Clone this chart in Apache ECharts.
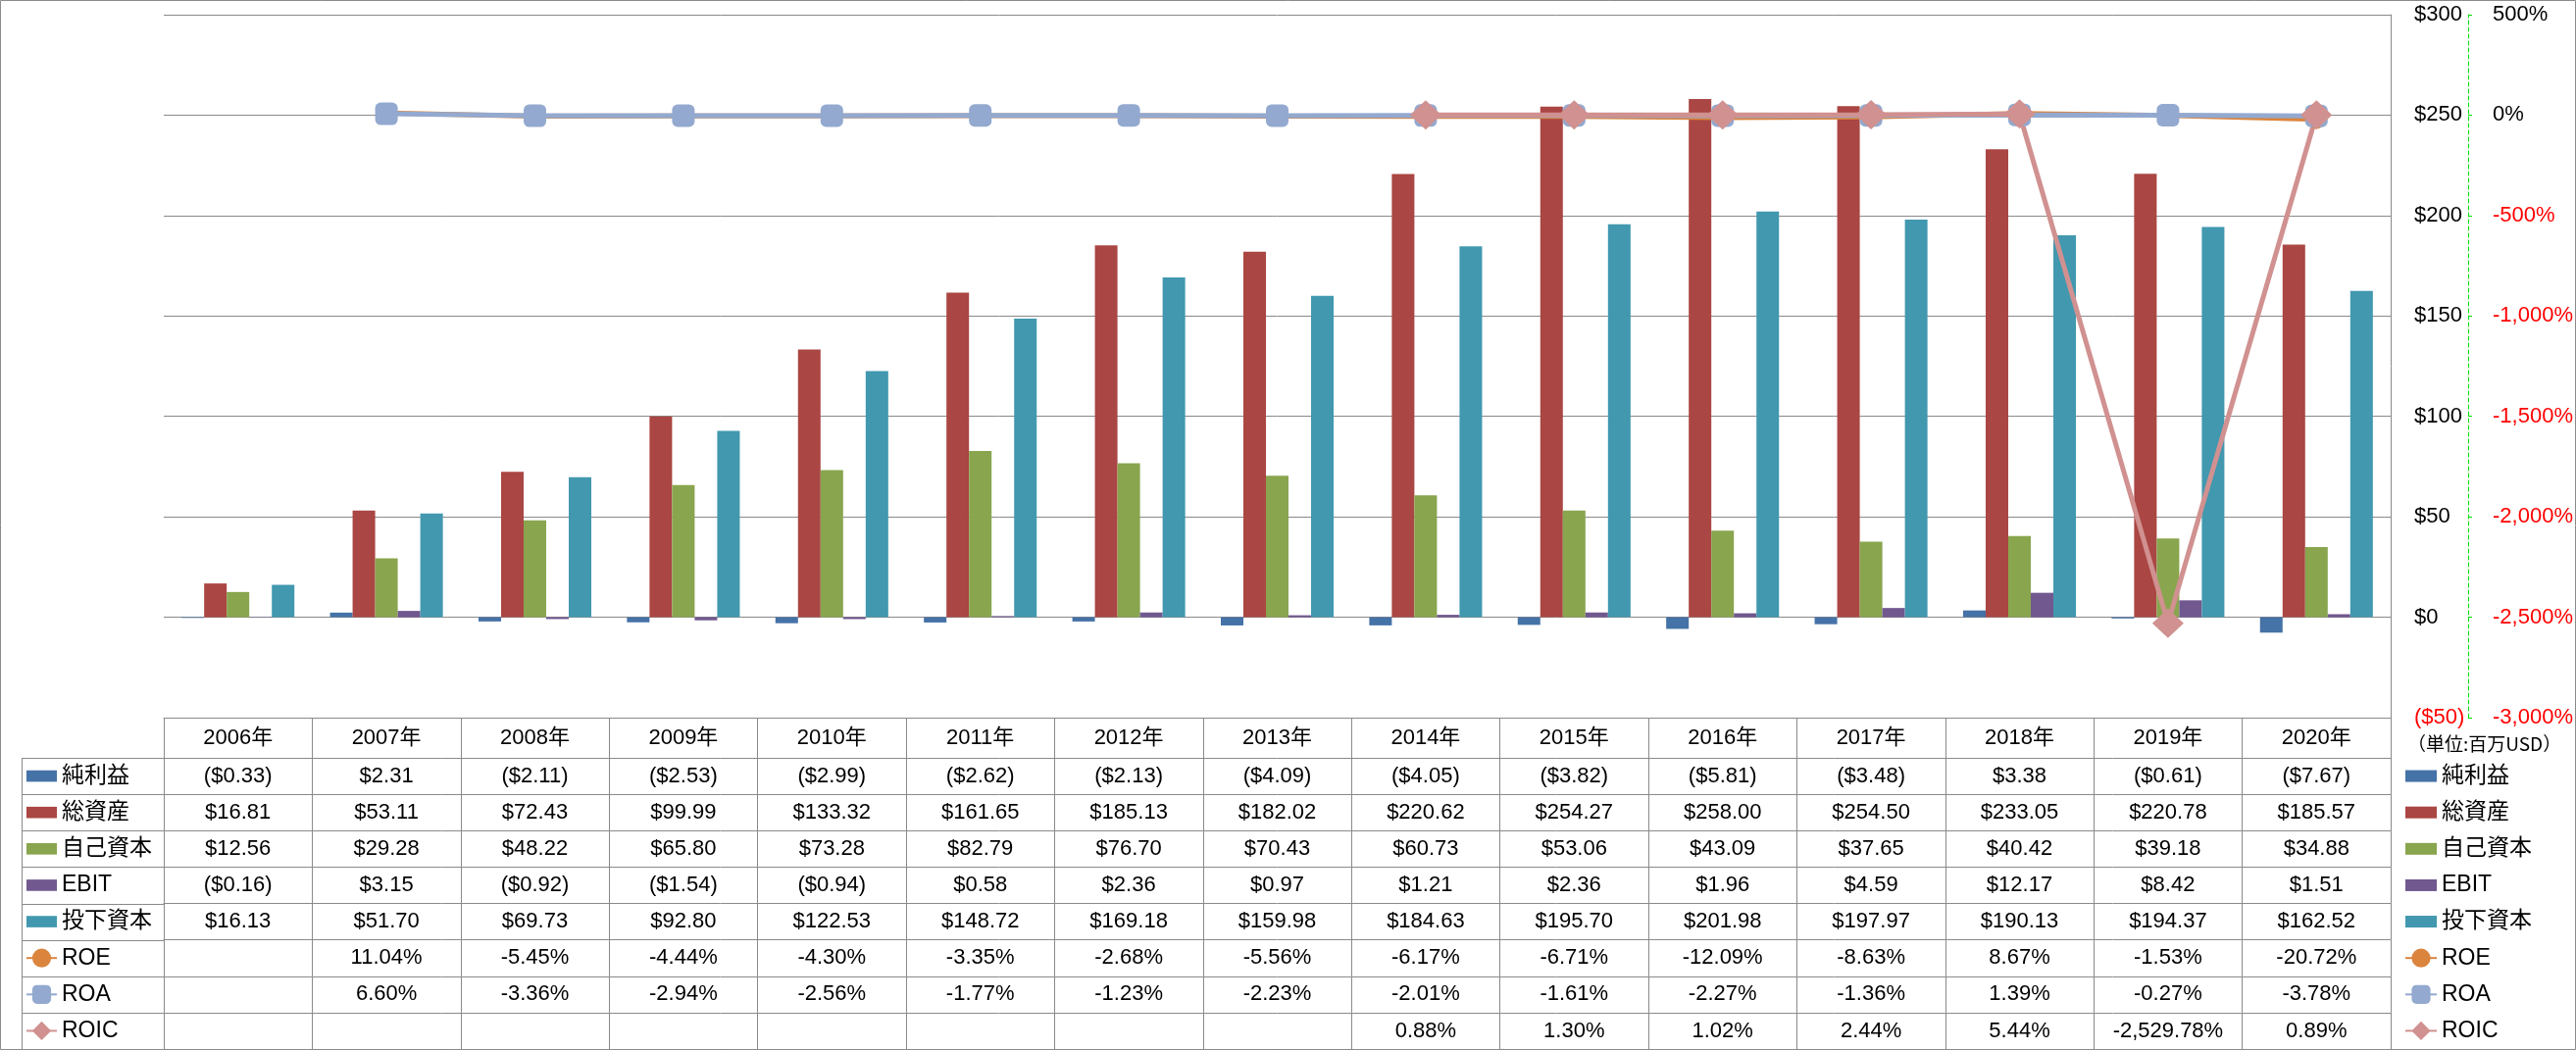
<!DOCTYPE html>
<html><head><meta charset="utf-8">
<script src="https://cdn.jsdelivr.net/npm/echarts@6/dist/echarts.min.js"></script>
<style>html,body{margin:0;padding:0;background:#fff}#c{width:2627px;height:1071px}</style>
</head><body><div id="c"></div>
<script>
// ---- data ----
const years = ['2006年','2007年','2008年','2009年','2010年','2011年','2012年','2013年','2014年','2015年','2016年','2017年','2018年','2019年','2020年'];
const netIncome = [-0.33, 2.31, -2.11, -2.53, -2.99, -2.62, -2.13, -4.09, -4.05, -3.82, -5.81, -3.48, 3.38, -0.61, -7.67];
const totalAssets = [16.81, 53.11, 72.43, 99.99, 133.32, 161.65, 185.13, 182.02, 220.62, 254.27, 258.00, 254.50, 233.05, 220.78, 185.57];
const equity = [12.56, 29.28, 48.22, 65.80, 73.28, 82.79, 76.70, 70.43, 60.73, 53.06, 43.09, 37.65, 40.42, 39.18, 34.88];
const ebit = [-0.16, 3.15, -0.92, -1.54, -0.94, 0.58, 2.36, 0.97, 1.21, 2.36, 1.96, 4.59, 12.17, 8.42, 1.51];
const investedCapital = [16.13, 51.70, 69.73, 92.80, 122.53, 148.72, 169.18, 159.98, 184.63, 195.70, 201.98, 197.97, 190.13, 194.37, 162.52];
const roe = [null, 11.04, -5.45, -4.44, -4.30, -3.35, -2.68, -5.56, -6.17, -6.71, -12.09, -8.63, 8.67, -1.53, -20.72];
const roa = [null, 6.60, -3.36, -2.94, -2.56, -1.77, -1.23, -2.23, -2.01, -1.61, -2.27, -1.36, 1.39, -0.27, -3.78];
const roic = [null, null, null, null, null, null, null, null, 0.88, 1.30, 1.02, 2.44, 5.44, -2529.78, 0.89];
const unitLabel = '（単位:百万USD）';

// ---- layout / style ----
const FONT = "'Liberation Sans','Noto Sans CJK JP',sans-serif";
const GRID_L = 167, GRID_R = 189, GRID_T = 15, GRID_B = 339;
const TABLE_TOP = 1071 - GRID_B;      // 732
const HEAD_H = 41, ROW_H = 37.125;
const LINE_C = '#8a8a8a';
const COLORS = {
  ni: '#4572A7', ta: '#AA4643', eq: '#89A54E', ebit: '#71588F', ic: '#4198AF',
  roe: '#DB843D', roa: '#93A9CF', roic: '#D09190'
};

const nf = (n) => Math.abs(n).toLocaleString('en-US', {minimumFractionDigits: 2, maximumFractionDigits: 2});
const money = (n) => n == null ? '' : (n < 0 ? '($' + nf(n) + ')' : '$' + nf(n));
const pct = (n) => n == null ? '' : (n < 0 ? '-' : '') + nf(n) + '%';

const rows = [
  {name: '純利益', data: netIncome, fmt: money, type: 'bar', color: COLORS.ni},
  {name: '総資産', data: totalAssets, fmt: money, type: 'bar', color: COLORS.ta},
  {name: '自己資本', data: equity, fmt: money, type: 'bar', color: COLORS.eq},
  {name: 'EBIT', data: ebit, fmt: money, type: 'bar', color: COLORS.ebit},
  {name: '投下資本', data: investedCapital, fmt: money, type: 'bar', color: COLORS.ic},
  {name: 'ROE', data: roe, fmt: pct, type: 'line', color: COLORS.roe, symbol: 'circle', size: 19},
  {name: 'ROA', data: roa, fmt: pct, type: 'line', color: COLORS.roa, symbol: 'roundRect', size: 23},
  {name: 'ROIC', data: roic, fmt: pct, type: 'line', color: COLORS.roic, symbol: 'diamond', size: [32, 30]}
];

const labelBase = {fontSize: 22, color: '#000', fontFamily: FONT};

// table built from category x axes
const xAxes = [{
  type: 'category', data: years, position: 'bottom', offset: 0,
  axisLine: {show: true, onZero: false, lineStyle: {color: LINE_C}},
  axisTick: {show: true, interval: 0, length: HEAD_H, lineStyle: {color: LINE_C}},
  axisLabel: Object.assign({interval: 0, margin: HEAD_H / 2, verticalAlign: 'middle'}, labelBase),
  splitLine: {show: false}
}];
rows.forEach((r, i) => {
  xAxes.push({
    type: 'category', data: years, position: 'bottom', offset: HEAD_H + i * ROW_H,
    axisLine: {show: true, onZero: false, lineStyle: {color: LINE_C}},
    axisTick: {show: true, interval: 0, length: ROW_H, lineStyle: {color: LINE_C}},
    axisLabel: Object.assign({interval: 0, margin: ROW_H / 2, verticalAlign: 'middle',
      formatter: (v, idx) => r.fmt(r.data[idx])}, labelBase),
    splitLine: {show: false}
  });
});
xAxes.push({
  type: 'category', data: years, position: 'bottom', offset: HEAD_H + rows.length * ROW_H,
  axisLine: {show: true, onZero: false, lineStyle: {color: LINE_C}},
  axisTick: {show: false}, axisLabel: {show: false}, splitLine: {show: false}
});

const series = rows.map((r) => {
  if (r.type === 'bar') {
    return {name: r.name, type: 'bar', data: r.data, yAxisIndex: 0, xAxisIndex: 0,
      barGap: '0%', barCategoryGap: '24%', itemStyle: {color: r.color}};
  }
  return {name: r.name, type: 'line', data: r.data, yAxisIndex: 1, xAxisIndex: 0,
    symbol: r.symbol, symbolSize: r.size, showSymbol: true,
    lineStyle: {color: r.color, width: 5}, itemStyle: {color: r.color}};
});

const barIcon = 'path://M0 0H32V12H0Z';
const legendData = rows.map(r => r.type === 'bar' ? {name: r.name, icon: barIcon} : {name: r.name});
const legendBase = {
  orient: 'vertical', top: TABLE_TOP + HEAD_H, itemHeight: 24, itemGap: 0, padding: 0,
  selectedMode: false, data: legendData,
  textStyle: {fontSize: 23, lineHeight: ROW_H, color: '#000', fontFamily: FONT}
};

const graphics = [];
for (let k = 0; k <= rows.length; k++) {
  const y = Math.round(TABLE_TOP + HEAD_H + k * ROW_H) + 0.5;
  graphics.push({type: 'line', shape: {x1: 22, y1: y, x2: GRID_L, y2: y}, style: {stroke: LINE_C, lineWidth: 1}});
}
graphics.push({type: 'line', shape: {x1: 22.5, y1: TABLE_TOP + HEAD_H, x2: 22.5, y2: 1070}, style: {stroke: LINE_C, lineWidth: 1}});
graphics.push({type: 'rect', shape: {x: 0.5, y: 0.5, width: 2626, height: 1070}, style: {fill: 'none', stroke: '#8a8a8a', lineWidth: 1}, silent: true});
graphics.push({type: 'text', left: 2455, top: 749, style: {text: unitLabel, fill: '#000', font: "19px 'Noto Sans CJK JP'"}});

const option = {
  animation: false,
  backgroundColor: '#fff',
  grid: {left: GRID_L, right: GRID_R, top: GRID_T, bottom: GRID_B, containLabel: false},
  xAxis: xAxes,
  yAxis: [{
    type: 'value', position: 'right', min: -50, max: 300, interval: 50,
    axisLine: {show: true, lineStyle: {color: LINE_C}},
    axisTick: {show: false},
    splitLine: {show: true, lineStyle: {color: LINE_C, width: 1}},
    axisLabel: {margin: 24, fontSize: 22, fontFamily: FONT,
      formatter: (v) => v < 0 ? '($' + (-v) + ')' : '$' + v,
      color: (v) => Number(v) < 0 ? '#FF0000' : '#000'}
  }, {
    type: 'value', position: 'right', offset: 79, min: -3000, max: 500, interval: 500,
    axisLine: {show: true, lineStyle: {color: '#00E000', type: [4, 3], width: 1}},
    axisTick: {show: true, length: 7, lineStyle: {color: '#00E000', type: [4, 3]}},
    splitLine: {show: false},
    axisLabel: {margin: 25, fontSize: 22, fontFamily: FONT,
      formatter: (v) => v.toLocaleString('en-US') + '%',
      color: (v) => Number(v) < 0 ? '#FF0000' : '#000'}
  }],
  legend: [
    Object.assign({left: 26, itemWidth: 31}, legendBase),
    Object.assign({left: 2452, itemWidth: 32}, legendBase)
  ],
  graphic: graphics,
  series: series
};

const chart = echarts.init(document.getElementById('c'), null, {renderer: 'canvas'});
chart.setOption(option);
</script>
</body></html>
